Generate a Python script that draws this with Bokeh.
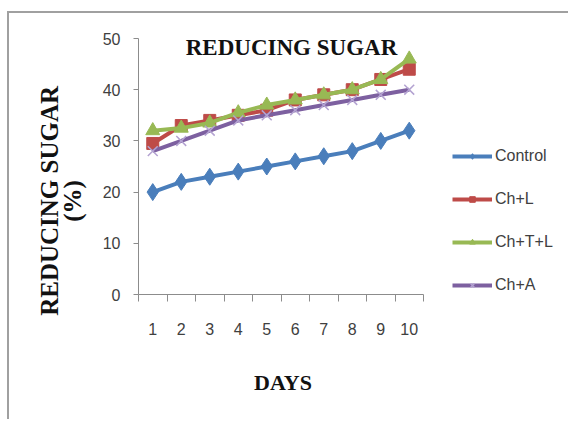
from bokeh.plotting import figure
from bokeh.models import (Range1d, FixedTicker, Label, Legend, LegendItem)
from bokeh.embed import file_html
from bokeh.resources import INLINE

days = [1, 2, 3, 4, 5, 6, 7, 8, 9, 10]
control = [20, 22, 23, 24, 25, 26, 27, 28, 30, 32]
ch_l = [29.5, 33, 34, 35, 36, 38, 39, 40, 42, 44]
ch_t_l = [32, 32.5, 33.5, 35.5, 37, 38, 39, 40, 42, 46]
ch_a = [28, 30, 32, 34, 35, 36, 37, 38, 39, 40]
y_ticks = [0, 10, 20, 30, 40, 50]

# The frame runs on to the right edge so that the legend (drawn inside it) is not clipped;
# the x axis itself is bounded to days 0.5 .. 10.5.
x_end = 0.5 + 432 / 28.5

p = figure(width=561, height=408, output_backend="svg", toolbar_location=None,
           x_range=Range1d(0.5, x_end), y_range=Range1d(0, 50),
           min_border_left=129, min_border_right=0, min_border_top=25,
           min_border_bottom=127)
p.styles = {"margin-left": "7px", "margin-top": "11px",
            "border-left": "2px solid #a0a0a0", "border-top": "2px solid #a0a0a0"}
p.background_fill_color = "white"
p.border_fill_color = "white"
p.outline_line_color = None
p.xgrid.visible = False
p.ygrid.visible = False

axis_col = "#8c8c8c"
tick_font = "Liberation Sans"

xa = p.xaxis[0]
xa.bounds = (0.5, 10.5)
xa.ticker = FixedTicker(ticks=days, minor_ticks=[d - 0.5 for d in days] + [10.5])
xa.axis_line_color = axis_col
xa.major_tick_line_color = None
xa.major_tick_out = 7
xa.major_tick_in = 0
xa.minor_tick_line_color = axis_col
xa.minor_tick_out = 7
xa.minor_tick_in = 0
xa.major_label_standoff = 21
xa.major_label_text_font = tick_font
xa.major_label_text_font_size = "16px"
xa.major_label_text_color = "#404040"
xa.axis_label = "DAYS" + "\u00a0" * 26
xa.axis_label_text_font = "Liberation Serif"
xa.axis_label_text_font_style = "bold"
xa.axis_label_text_font_size = "22px"
xa.axis_label_text_color = "#111111"
xa.axis_label_standoff = 32

pad = "\u00a0" * 11
ya = p.yaxis[0]
ya.ticker = FixedTicker(ticks=y_ticks)
ya.axis_line_color = axis_col
ya.major_tick_line_color = axis_col
ya.major_tick_out = 5
ya.major_tick_in = 0
ya.minor_tick_line_color = None
ya.major_label_standoff = 13
ya.major_label_text_font = tick_font
ya.major_label_text_font_size = "16px"
ya.major_label_text_color = "#404040"
ya.axis_label = "REDUCING SUGAR" + pad + "\n(%)" + pad
ya.axis_label_text_font = "Liberation Serif"
ya.axis_label_text_font_style = "bold"
ya.axis_label_text_font_size = "25px"
ya.axis_label_text_line_height = 0.85
ya.axis_label_text_color = "#111111"
ya.axis_label_standoff = 14

blue = "#4A7EBB"
red = "#BE4B48"
green = "#98B954"
purple = "#7D60A0"
lav = "#B3A2D1"

lw = 4
r1l = p.line(days, control, line_color=blue, line_width=lw)
r1m = p.scatter(days, control, marker="diamond", size=17, fill_color=blue, line_color=blue)
r2l = p.line(days, ch_l, line_color=red, line_width=lw)
r2m = p.scatter(days, ch_l, marker="square", size=12, fill_color=red, line_color=red)
r3l = p.line(days, ch_t_l, line_color=green, line_width=lw)
r3m = p.scatter(days, ch_t_l, marker="triangle", size=14, fill_color=green, line_color=green)
r4l = p.line(days, ch_a, line_color=purple, line_width=lw)
r4m = p.scatter(days, ch_a, marker="x", size=14, line_color=lav, line_width=1.5)

legend = Legend(items=[
    LegendItem(label="Control", renderers=[r1l, r1m]),
    LegendItem(label="Ch+L", renderers=[r2l, r2m]),
    LegendItem(label="Ch+T+L", renderers=[r3l, r3m]),
    LegendItem(label="Ch+A", renderers=[r4l, r4m]),
], location=(314, 0))
legend.border_line_color = None
legend.background_fill_alpha = 0
legend.padding = 0
legend.margin = 0
legend.spacing = 25
legend.glyph_width = 40
legend.glyph_height = 14
legend.label_height = 14
legend.label_standoff = 3
legend.label_text_font = tick_font
legend.label_text_font_size = "16px"
legend.label_text_color = "#404040"
p.add_layout(legend, "center")

title = Label(x=153, y=247, x_units="screen", y_units="screen", text="REDUCING SUGAR",
              text_font="Liberation Serif", text_font_style="bold", text_font_size="23px",
              text_align="center", text_baseline="middle", text_color="#111111")
p.add_layout(title)

open("out.html", "w").write(file_html(p, INLINE))
